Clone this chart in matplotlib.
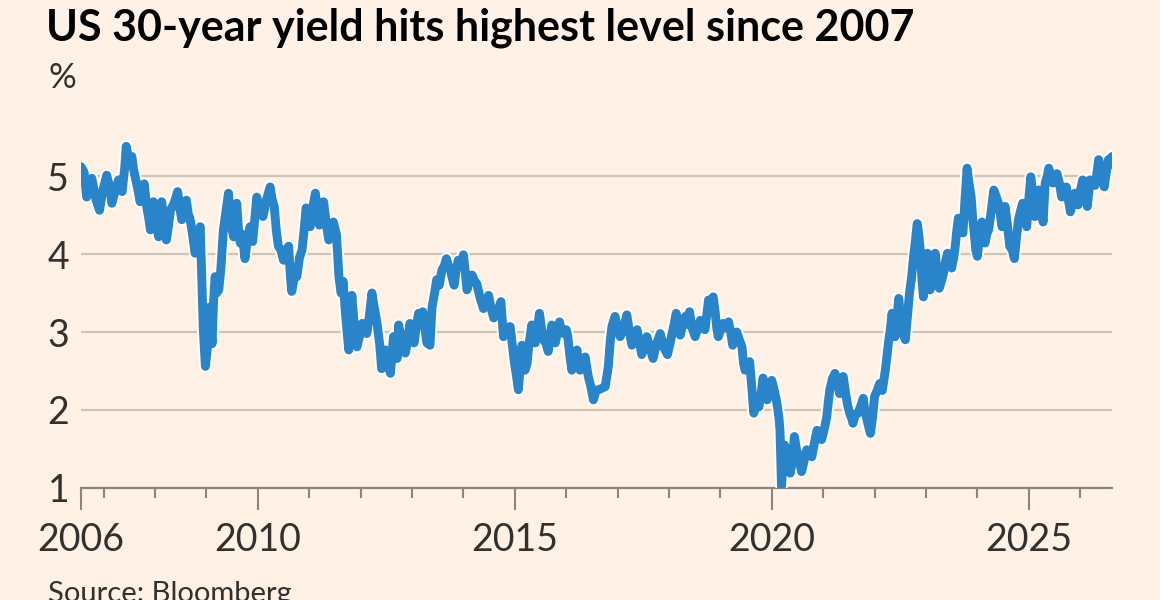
import matplotlib
matplotlib.use("Agg")
import matplotlib.pyplot as plt
import matplotlib.patheffects as pe

# --- colours (FT style) ---
BG = "#FFF1E5"
LINE = "#2A84C9"
GRID = "#CEC5B9"
AXIS = "#8C857F"
TEXT = "#33302E"

plt.rcParams["font.family"] = ["Lato", "DejaVu Sans"]

# --- data: US 30-year Treasury yield (%) ---
dates = [
    2006.56, 2006.62, 2006.67, 2006.72, 2006.77, 2006.85, 2006.92, 2006.98,
    2007.06, 2007.12, 2007.16, 2007.22, 2007.29, 2007.33, 2007.36, 2007.41,
    2007.44, 2007.49, 2007.55, 2007.58, 2007.61, 2007.66, 2007.71, 2007.75,
    2007.79, 2007.84, 2007.88, 2007.91, 2007.97, 2008.02, 2008.07, 2008.13,
    2008.18, 2008.22, 2008.26, 2008.30, 2008.37, 2008.44, 2008.48, 2008.52,
    2008.57, 2008.61, 2008.65, 2008.68, 2008.73, 2008.78, 2008.84, 2008.88,
    2008.91, 2008.94, 2008.98, 2009.02, 2009.07, 2009.11, 2009.14, 2009.17,
    2009.20, 2009.24, 2009.28, 2009.33, 2009.38, 2009.43, 2009.47, 2009.53,
    2009.59, 2009.62, 2009.66, 2009.70, 2009.75, 2009.80, 2009.85, 2009.90,
    2009.94, 2009.98, 2010.04, 2010.10, 2010.17, 2010.24, 2010.28, 2010.32,
    2010.36, 2010.40, 2010.45, 2010.50, 2010.55, 2010.60, 2010.63, 2010.66,
    2010.71, 2010.76, 2010.81, 2010.86, 2010.90, 2010.94, 2010.98, 2011.02,
    2011.07, 2011.12, 2011.16, 2011.20, 2011.24, 2011.28, 2011.33, 2011.38,
    2011.43, 2011.47, 2011.53, 2011.58, 2011.62, 2011.66, 2011.71, 2011.77,
    2011.80, 2011.83, 2011.88, 2011.93, 2011.98, 2012.03, 2012.08, 2012.12,
    2012.17, 2012.22, 2012.27, 2012.32, 2012.37, 2012.41, 2012.45, 2012.48,
    2012.53, 2012.58, 2012.61, 2012.64, 2012.68, 2012.71, 2012.74, 2012.80,
    2012.87, 2012.92, 2012.96, 2013.00, 2013.04, 2013.09, 2013.13, 2013.17,
    2013.21, 2013.25, 2013.29, 2013.35, 2013.39, 2013.44, 2013.48, 2013.53,
    2013.58, 2013.63, 2013.67, 2013.71, 2013.74, 2013.78, 2013.82, 2013.86,
    2013.90, 2013.95, 2014.00, 2014.04, 2014.07, 2014.12, 2014.17, 2014.22,
    2014.26, 2014.32, 2014.39, 2014.44, 2014.49, 2014.54, 2014.59, 2014.66,
    2014.73, 2014.78, 2014.84, 2014.91, 2014.95, 2014.99, 2015.03, 2015.07,
    2015.10, 2015.14, 2015.17, 2015.20, 2015.24, 2015.27, 2015.33, 2015.37,
    2015.40, 2015.44, 2015.48, 2015.52, 2015.56, 2015.61, 2015.65, 2015.69,
    2015.72, 2015.76, 2015.79, 2015.83, 2015.87, 2015.91, 2015.95, 2016.00,
    2016.03, 2016.07, 2016.11, 2016.16, 2016.21, 2016.24, 2016.27, 2016.32,
    2016.37, 2016.40, 2016.43, 2016.48, 2016.53, 2016.58, 2016.63, 2016.70,
    2016.76, 2016.82, 2016.86, 2016.89, 2016.95, 2017.00, 2017.05, 2017.12,
    2017.18, 2017.23, 2017.28, 2017.33, 2017.38, 2017.43, 2017.47, 2017.52,
    2017.57, 2017.63, 2017.69, 2017.76, 2017.83, 2017.90, 2017.97, 2018.02,
    2018.06, 2018.10, 2018.14, 2018.18, 2018.22, 2018.27, 2018.32, 2018.36,
    2018.40, 2018.45, 2018.51, 2018.56, 2018.61, 2018.66, 2018.70, 2018.74,
    2018.77, 2018.82, 2018.86, 2018.90, 2018.93, 2018.96, 2019.00, 2019.05,
    2019.10, 2019.16, 2019.20, 2019.24, 2019.28, 2019.32, 2019.37, 2019.42,
    2019.45, 2019.48, 2019.53, 2019.57, 2019.61, 2019.65, 2019.70, 2019.75,
    2019.80, 2019.83, 2019.87, 2019.91, 2019.96, 2020.00, 2020.05, 2020.10,
    2020.14, 2020.16, 2020.19, 2020.22, 2020.25, 2020.29, 2020.33, 2020.36,
    2020.40, 2020.44, 2020.48, 2020.52, 2020.55, 2020.58, 2020.63, 2020.68,
    2020.73, 2020.78, 2020.83, 2020.88, 2020.92, 2020.97, 2021.02, 2021.07,
    2021.10, 2021.13, 2021.18, 2021.23, 2021.28, 2021.32, 2021.36, 2021.39,
    2021.44, 2021.48, 2021.52, 2021.55, 2021.58, 2021.63, 2021.68, 2021.73,
    2021.78, 2021.81, 2021.84, 2021.88, 2021.92, 2021.96, 2022.00, 2022.05,
    2022.10, 2022.15, 2022.21, 2022.27, 2022.31, 2022.34, 2022.40, 2022.44,
    2022.47, 2022.53, 2022.60, 2022.64, 2022.68, 2022.72, 2022.76, 2022.80,
    2022.83, 2022.86, 2022.89, 2022.92, 2022.95, 2023.00, 2023.03, 2023.06,
    2023.08, 2023.13, 2023.18, 2023.22, 2023.26, 2023.30, 2023.34, 2023.38,
    2023.42, 2023.46, 2023.50, 2023.54, 2023.57, 2023.60, 2023.63, 2023.68,
    2023.72, 2023.76, 2023.80, 2023.84, 2023.88, 2023.91, 2023.94, 2023.97,
    2024.00, 2024.04, 2024.09, 2024.12, 2024.15, 2024.18, 2024.22, 2024.27,
    2024.32, 2024.36, 2024.41, 2024.45, 2024.48, 2024.51, 2024.54, 2024.58,
    2024.63, 2024.68, 2024.72, 2024.76, 2024.80, 2024.84, 2024.88, 2024.92,
    2024.96, 2025.00, 2025.04, 2025.08, 2025.12, 2025.16, 2025.19, 2025.24,
    2025.28, 2025.32, 2025.36, 2025.39, 2025.43, 2025.47, 2025.51, 2025.55,
    2025.60, 2025.64, 2025.68, 2025.73, 2025.77, 2025.81, 2025.86, 2025.90,
    2025.93, 2025.96, 2026.00, 2026.05, 2026.09, 2026.14, 2026.17, 2026.19,
    2026.24, 2026.29, 2026.33, 2026.36, 2026.41, 2026.47, 2026.51, 2026.55,
    2026.59, 2026.62,
]

yields = [
    5.12, 5.05, 4.73, 4.90, 4.97, 4.70, 4.56, 4.80,
    5.01, 4.85, 4.65, 4.80, 4.95, 4.85, 4.80, 5.10,
    5.38, 5.20, 5.25, 5.10, 5.00, 4.85, 4.67, 4.80,
    4.90, 4.60, 4.45, 4.31, 4.67, 4.40, 4.22, 4.67,
    4.40, 4.18, 4.35, 4.56, 4.65, 4.80, 4.60, 4.44,
    4.55, 4.69, 4.50, 4.46, 4.25, 4.01, 4.25, 4.35,
    3.70, 3.03, 2.56, 2.80, 3.32, 2.85, 3.40, 3.71,
    3.50, 3.54, 3.80, 4.31, 4.55, 4.78, 4.40, 4.22,
    4.65, 4.35, 4.14, 4.25, 3.94, 4.20, 4.35, 4.16,
    4.45, 4.73, 4.55, 4.48, 4.70, 4.86, 4.70, 4.61,
    4.30, 4.10, 4.05, 3.92, 4.05, 4.10, 3.75, 3.52,
    3.70, 3.71, 3.95, 4.05, 4.30, 4.59, 4.40, 4.35,
    4.60, 4.78, 4.55, 4.37, 4.50, 4.67, 4.40, 4.18,
    4.30, 4.41, 4.25, 3.70, 3.50, 3.65, 3.20, 2.77,
    3.10, 3.47, 3.05, 2.81, 2.95, 3.11, 3.05, 2.98,
    3.20, 3.50, 3.30, 3.11, 2.85, 2.53, 2.70, 2.77,
    2.60, 2.47, 2.70, 2.94, 2.80, 2.66, 3.09, 2.90,
    2.73, 2.90, 3.11, 3.00, 2.86, 3.10, 3.24, 3.15,
    3.26, 3.05, 2.86, 2.83, 3.32, 3.50, 3.67, 3.60,
    3.79, 3.85, 3.94, 3.85, 3.82, 3.70, 3.60, 3.80,
    3.92, 3.85, 3.99, 3.75, 3.54, 3.65, 3.73, 3.65,
    3.62, 3.45, 3.30, 3.40, 3.47, 3.30, 3.18, 3.25,
    3.39, 2.94, 3.05, 3.07, 2.85, 2.62, 2.45, 2.26,
    2.50, 2.83, 2.65, 2.51, 2.60, 2.81, 3.09, 2.95,
    2.86, 3.05, 3.24, 3.05, 2.90, 2.85, 2.75, 2.95,
    3.09, 2.95, 2.86, 3.00, 3.13, 3.00, 2.98, 3.03,
    2.95, 2.70, 2.51, 2.65, 2.77, 2.62, 2.51, 2.60,
    2.68, 2.55, 2.43, 2.30, 2.13, 2.25, 2.26, 2.28,
    2.30, 2.56, 2.90, 3.07, 3.20, 3.05, 2.94, 3.05,
    3.22, 3.00, 2.83, 2.95, 3.03, 2.85, 2.71, 2.80,
    2.94, 2.80, 2.66, 2.85, 2.98, 2.80, 2.71, 2.85,
    2.98, 3.10, 3.24, 3.10, 2.96, 3.10, 3.20, 3.10,
    3.26, 3.05, 2.94, 3.05, 3.15, 3.05, 3.03, 3.25,
    3.41, 3.38, 3.45, 3.25, 3.05, 2.94, 3.02, 3.11,
    3.05, 3.13, 3.00, 2.83, 2.95, 3.00, 2.90, 2.81,
    2.60, 2.51, 2.60, 2.62, 2.30, 1.96, 2.10, 2.04,
    2.25, 2.41, 2.25, 2.13, 2.30, 2.38, 2.25, 2.09,
    1.90, 1.74, 1.02, 1.35, 1.55, 1.40, 1.30, 1.19,
    1.35, 1.66, 1.50, 1.40, 1.30, 1.21, 1.35, 1.49,
    1.45, 1.40, 1.58, 1.74, 1.65, 1.62, 1.75, 1.91,
    2.10, 2.26, 2.40, 2.47, 2.35, 2.21, 2.35, 2.43,
    2.20, 2.05, 1.95, 1.90, 1.83, 1.95, 1.96, 2.05,
    2.15, 2.00, 1.91, 1.80, 1.70, 1.90, 2.17, 2.25,
    2.34, 2.25, 2.51, 2.86, 3.05, 3.24, 2.94, 3.20,
    3.43, 3.03, 2.90, 3.20, 3.50, 3.70, 3.97, 4.20,
    4.39, 4.25, 4.05, 3.70, 3.45, 3.80, 4.01, 3.80,
    3.54, 3.80, 4.01, 3.75, 3.56, 3.65, 3.75, 3.90,
    4.01, 3.90, 3.82, 3.95, 4.10, 4.30, 4.46, 4.35,
    4.27, 4.70, 5.10, 4.90, 4.73, 4.45, 4.27, 4.05,
    3.97, 4.20, 4.41, 4.25, 4.14, 4.25, 4.31, 4.55,
    4.82, 4.75, 4.65, 4.50, 4.35, 4.50, 4.61, 4.40,
    4.10, 4.05, 3.94, 4.20, 4.44, 4.55, 4.65, 4.50,
    4.35, 4.70, 4.99, 4.75, 4.48, 4.65, 4.82, 4.60,
    4.41, 4.91, 5.00, 5.10, 5.00, 4.91, 4.98, 5.03,
    4.90, 4.73, 4.80, 4.86, 4.70, 4.54, 4.70, 4.78,
    4.70, 4.63, 4.80, 4.95, 4.85, 4.61, 4.80, 4.95,
    4.90, 4.88, 5.05, 5.21, 5.05, 4.86, 5.05, 5.21,
    5.15, 5.25,
]

y_ticks = [1, 2, 3, 4, 5]
x_label_years = [2010, 2015, 2020, 2025]
minor_years = list(range(2007, 2027))

title = "US 30-year yield hits highest level since 2007"
unit = "%"
source = "Source: Bloomberg"

# --- figure ---
fig = plt.figure(figsize=(11.6, 6.0), dpi=100, facecolor=BG)
ax = fig.add_axes([81 / 1160, 112 / 600, 1031 / 1160, 351 / 600])
ax.set_facecolor(BG)

ax.plot(dates, yields, color=LINE, lw=6.4, solid_capstyle="round",
        solid_joinstyle="round", zorder=3,
        path_effects=[pe.Stroke(linewidth=9.2, foreground="white", alpha=0.9),
                      pe.Normal()])

ax.set_xlim(dates[0], dates[-1])
ax.set_ylim(1, 5.5)

# y axis: labels only, horizontal grid
ax.set_yticks(y_ticks)
ax.set_yticklabels([str(v) for v in y_ticks])
ax.tick_params(axis="y", length=0, pad=8.5, labelsize=27, labelcolor=TEXT)
ax.yaxis.grid(True, color=GRID, lw=1.6, zorder=0)

# x axis: first date labelled with its year, then every 5 years
ax.set_xticks([dates[0]] + x_label_years)
ax.set_xticklabels([str(int(dates[0]))] + [str(y) for y in x_label_years])
ax.set_xticks(minor_years, minor=True)
ax.tick_params(axis="x", which="major", length=15.5, width=1.5, color=AXIS,
               pad=9, labelsize=27, labelcolor=TEXT)
ax.tick_params(axis="x", which="minor", length=7.5, width=1.5, color=AXIS)

for side in ["top", "right", "left"]:
    ax.spines[side].set_visible(False)
ax.spines["bottom"].set_color(AXIS)
ax.spines["bottom"].set_linewidth(1.6)
ax.spines["bottom"].set_zorder(2)

fig.text(46 / 1160, 1 - 40 / 600, title, fontsize=31, fontweight="bold",
         color="#000000", va="baseline", ha="left")
fig.text(48 / 1160, 1 - 88 / 600, unit, fontsize=25, color=TEXT,
         va="baseline", ha="left")
fig.text(48 / 1160, -2 / 600, source, fontsize=21, color=TEXT,
         va="baseline", ha="left")

fig.savefig("out.png", dpi=100, facecolor=BG)
